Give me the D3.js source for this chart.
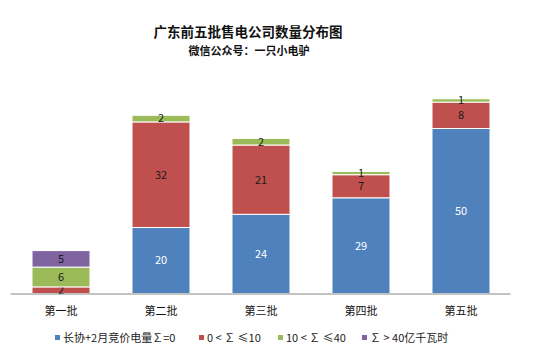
<!DOCTYPE html>
<html><head><meta charset="utf-8">
<script src="https://cdn.jsdelivr.net/npm/d3@7"></script>
<style>body{margin:0;background:#fff}svg{font-family:"Noto Sans CJK SC","Noto Sans",sans-serif}</style>
</head><body><svg id="c" width="546" height="360"></svg>
<script>
const categories = ["第一批","第二批","第三批","第四批","第五批"];
const seriesNames = ["长协+2月竞价电量∑=0","0 < ∑ ≤10","10 < ∑ ≤40","∑ > 40亿千瓦时"];
const s0 = [0, 20, 24, 29, 50];
const s1 = [2, 32, 21, 7, 8];
const s2 = [6, 2, 2, 1, 1];
const s3 = [5, 0, 0, 0, 0];
const colors = ["#4F81BD","#C0504D","#9BBB59","#8064A2"];
const labelColors = ["#ffffff","#1a1a1a","#1a1a1a","#1a1a1a"];

const svg = d3.select("#c");
const baseY = 293.5;
const x = d3.scaleBand().domain(categories).range([11, 511]).paddingInner(0.42).paddingOuter(0.21);
const y = d3.scaleLinear().domain([0, 59]).range([baseY, 98.8]);

const rows = categories.map((c,i)=>({cat:c, v0:s0[i], v1:s1[i], v2:s2[i], v3:s3[i]}));
const stack = d3.stack().keys(["v0","v1","v2","v3"])(rows);

svg.append("text").attr("x",248).attr("y",37).attr("text-anchor","middle")
  .attr("font-size",13.5).attr("font-weight","bold").attr("fill","#111").text("广东前五批售电公司数量分布图");
svg.append("text").attr("x",249).attr("y",55).attr("text-anchor","middle")
  .attr("font-size",11).attr("font-weight","bold").attr("fill","#111").text("微信公众号：一只小电驴");

const g = svg.append("g");
stack.forEach((layer, k) => {
  layer.forEach((d, i) => {
    const v = d[1]-d[0];
    if (v <= 0) return;
    g.append("rect").attr("x", x(d.data.cat)).attr("width", x.bandwidth())
      .attr("y", y(d[1])).attr("height", y(d[0]) - y(d[1]))
      .attr("fill", colors[k]).attr("stroke","#fff").attr("stroke-width",1);
    g.append("text").attr("x", x(d.data.cat) + x.bandwidth()/2)
      .attr("y", (y(d[0])+y(d[1]))/2).attr("dy","0.35em").attr("text-anchor","middle")
      .attr("font-size",11).attr("fill",labelColors[k]).text(v);
  });
});

const xAxis = svg.append("g").attr("transform",`translate(0,${baseY})`)
  .call(d3.axisBottom(x).tickSize(0).tickPadding(14));
xAxis.select(".domain").attr("stroke","#868686").attr("d","M10.5,0.5H510.5");
xAxis.selectAll("text").attr("font-size",11).attr("fill","#111").attr("font-family",'"Noto Sans CJK SC",sans-serif');

const legX = [55, 199, 278, 362];
const lg = svg.append("g");
seriesNames.forEach((n,k)=>{
  lg.append("rect").attr("x",legX[k]).attr("y",335).attr("width",5).attr("height",5).attr("fill",colors[k]);
  lg.append("text").attr("x",legX[k]+8).attr("y",338).attr("dy","0.35em").attr("font-size",11).attr("fill","#222").text(n);
});
</script></body></html>
